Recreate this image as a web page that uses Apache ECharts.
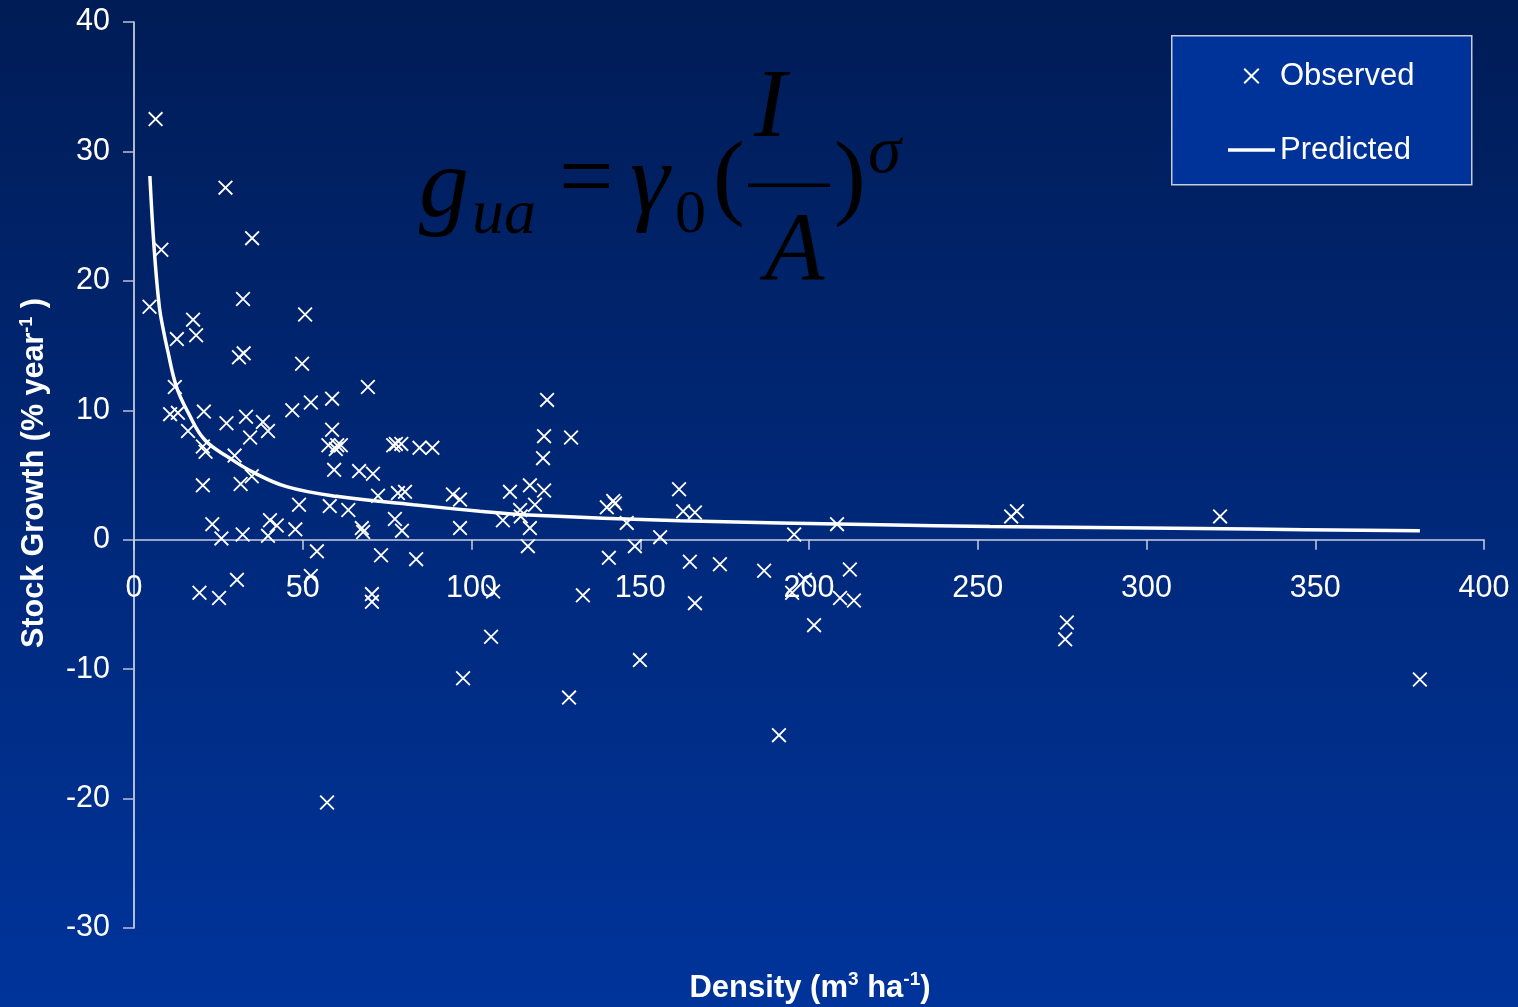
<!DOCTYPE html>
<html><head><meta charset="utf-8">
<script src="https://cdn.jsdelivr.net/npm/echarts@6/dist/echarts.min.js"></script>
<style>html,body{margin:0;padding:0;background:#002060;}#c{width:1518px;height:1007px;}</style>
</head><body><div id="c"></div>
<script>
const observedX = [6.4,8.1,4.6,27.1,35.0,32.3,50.7,17.5,18.4,12.7,31.1,32.5,49.8,12.1,69.3,10.7,13.0,20.7,16.0,27.4,33.2,38.2,39.7,34.4,20.4,21.2,29.8,20.4,31.6,34.9,46.9,52.4,58.7,58.7,57.6,60.2,61.3,59.8,59.3,66.7,70.8,76.8,77.6,79.2,84.6,88.4,72.3,78.2,80.3,48.9,58.0,63.5,23.2,25.9,32.2,40.3,42.3,39.7,47.8,67.5,67.9,77.3,79.4,54.2,73.2,83.6,52.4,19.4,25.2,30.5,70.5,70.5,57.2,94.5,96.6,96.6,109.3,111.4,114.4,114.6,117.3,118.8,117.3,116.7,121.5,121.2,121.5,122.4,129.5,140.1,142.0,142.5,146.0,148.4,140.7,155.9,161.5,162.7,166.2,164.7,173.6,166.2,186.7,195.6,208.3,195.0,198.8,212.1,209.2,213.3,201.5,191.1,106.4,105.8,97.5,133.0,149.9,128.9,259.9,261.6,321.8,276.4,275.9,381.0];
const observedY = [32.5,22.4,18.0,27.2,23.3,18.6,17.4,17.0,15.8,15.5,14.1,14.4,13.6,11.8,11.8,9.7,9.8,9.9,8.4,9.0,9.5,9.1,8.4,7.9,7.2,6.8,6.5,4.2,4.3,4.9,10.0,10.6,10.9,8.5,7.3,7.3,7.3,7.0,5.4,5.3,5.1,7.3,7.4,7.4,7.1,7.1,3.4,3.6,3.7,2.7,2.6,2.3,1.2,0.1,0.4,1.5,1.1,0.3,0.8,0.9,0.6,1.6,0.7,-0.9,-1.2,-1.5,-2.8,-4.1,-4.5,-3.1,-4.2,-4.8,-20.3,3.5,3.1,0.9,1.5,3.7,2.3,1.8,4.2,2.7,0.9,-0.5,3.8,6.3,8.0,10.8,7.9,2.5,3.0,2.8,1.3,-0.5,-1.4,0.2,3.9,2.2,2.1,-1.7,-1.9,-4.9,-2.4,0.4,1.2,-4.1,-3.1,-2.3,-4.5,-4.7,-6.6,-15.1,-4.0,-7.5,-10.7,-4.3,-9.3,-12.2,1.8,2.2,1.8,-6.4,-7.7,-10.8];
const predictedX = [4.7,6.0,7.5,8.7,9.9,12.6,16.1,21.0,28.4,35.4,45.2,60,82.8,102.5,115.3,161.8,221,253.6,330.7,381];
const predictedY = [28.1,22.4,18.0,16.2,14.7,11.8,9.8,7.7,6.3,5.2,4.1,3.35,2.7,2.2,1.93,1.47,1.16,1.03,0.82,0.7];
const seriesNames = ['Observed', 'Predicted'];
const xTickInterval = 50;
const yTickInterval = 10;

const FONT = '"Liberation Sans", Arial, sans-serif';
const SERIF = '"Liberation Serif", "Times New Roman", serif';
const xPath = 'path://M1.4,0L16,14.6L14.6,16L0,1.4Z M14.6,0L16,1.4L1.4,16L0,14.6Z';
const linePath = 'path://M0,0 M0,6.2L47,6.2L47,9.8L0,9.8Z M47,16';

const chart = echarts.init(document.getElementById('c'), null, {renderer: 'canvas'});
const option = {
  animation: false,
  backgroundColor: {type: 'linear', x: 0, y: 0, x2: 0, y2: 1, colorStops: [
    {offset: 0, color: '#001c56'}, {offset: 1, color: '#00349b'}]},
  grid: {left: 134, right: 34, top: 22, bottom: 79, containLabel: false},
  xAxis: {
    type: 'value', min: 0, max: 400, interval: xTickInterval,
    axisLine: {onZero: true, lineStyle: {color: '#c9cfe0', width: 1.5}},
    axisTick: {show: true, inside: false, length: 10, lineStyle: {color: '#c9cfe0', width: 1.5}},
    axisLabel: {color: '#ffffff', fontFamily: FONT, fontSize: 30.5, margin: -355},
    splitLine: {show: false}
  },
  yAxis: {
    type: 'value', min: -30, max: 40, interval: yTickInterval,
    axisLine: {show: true, lineStyle: {color: '#e8ecf5', width: 1.5}},
    axisTick: {show: true, inside: false, length: 11, lineStyle: {color: '#b8c0d8', width: 1.5}},
    axisLabel: {color: '#ffffff', fontFamily: FONT, fontSize: 30.5, margin: 24},
    splitLine: {show: false}
  },
  legend: {
    orient: 'vertical', left: 1228, top: 60, itemGap: 42, itemWidth: 47, itemHeight: 16,
    itemTextGap: 11, padding: 0,
    textStyle: {color: '#ffffff', fontFamily: FONT, fontSize: 31, lineHeight: 32},
    data: [
      {name: seriesNames[0], icon: xPath, itemStyle: {color: '#ffffff', borderWidth: 0}},
      {name: seriesNames[1], icon: linePath, itemStyle: {color: '#ffffff', borderWidth: 0}}
    ]
  },
  graphic: [
    {type: 'rect', left: 1171, top: 35, z: -1, shape: {width: 300, height: 149},
      style: {fill: '#003399', stroke: '#c8ccd8', lineWidth: 1.5}},
    // formula
    {type: 'text', x: 419, y: 190, style: {text: 'g', font: 'italic 100px ' + SERIF, fill: '#000', verticalAlign: 'middle'}},
    {type: 'text', x: 472, y: 216, style: {text: 'ua', font: 'italic 64px ' + SERIF, fill: '#000', verticalAlign: 'middle'}},
    {type: 'text', x: 559, y: 183, style: {text: '=', font: '97px ' + SERIF, fill: '#000', verticalAlign: 'middle'}},
    {type: 'text', x: 630, y: 186, style: {text: 'γ', font: 'italic 100px ' + SERIF, fill: '#000', verticalAlign: 'middle'}},
    {type: 'text', x: 675, y: 216, style: {text: '0', font: '62px ' + SERIF, fill: '#000', verticalAlign: 'middle'}},
    {type: 'text', x: 713, y: 182, style: {text: '(', font: '95px ' + SERIF, fill: '#000', verticalAlign: 'middle'}},
    {type: 'rect', shape: {x: 748, y: 183.5, width: 82, height: 3.5}, style: {fill: '#000'}},
    {type: 'text', x: 754, y: 110, style: {text: 'I', font: 'italic 97px ' + SERIF, fill: '#000', verticalAlign: 'middle'}},
    {type: 'text', x: 765, y: 253, style: {text: 'A', font: 'italic 97px ' + SERIF, fill: '#000', verticalAlign: 'middle'}},
    {type: 'text', x: 834, y: 182, style: {text: ')', font: '95px ' + SERIF, fill: '#000', verticalAlign: 'middle'}},
    {type: 'text', x: 868, y: 154, style: {text: 'σ', font: 'italic 67px ' + SERIF, fill: '#000', verticalAlign: 'middle'}},
    // axis titles
    {type: 'text', x: 810, y: 988, style: {
      text: '{a|Density (m}{s|3}{a| ha}{s|-1}{a|)}', align: 'center', verticalAlign: 'middle',
      rich: {
        a: {fontFamily: FONT, fontWeight: 'bold', fontSize: 31, lineHeight: 35, fill: '#fff', color: '#fff'},
        s: {fontFamily: FONT, fontWeight: 'bold', fontSize: 19, lineHeight: 19, verticalAlign: 'top', fill: '#fff', color: '#fff'}
      }}},
    {type: 'text', x: 35, y: 473, rotation: Math.PI / 2, style: {
      text: '{a|Stock Growth (% year}{s|-1}{a| )}', align: 'center', verticalAlign: 'middle',
      rich: {
        a: {fontFamily: FONT, fontWeight: 'bold', fontSize: 30.5, lineHeight: 34, fill: '#fff', color: '#fff'},
        s: {fontFamily: FONT, fontWeight: 'bold', fontSize: 18, lineHeight: 18, verticalAlign: 'top', fill: '#fff', color: '#fff'}
      }}}
  ],
  series: [
    {
      name: seriesNames[0], type: 'scatter', symbol: xPath, symbolSize: 15, symbolKeepAspect: true,
      itemStyle: {color: '#ffffff', opacity: 1},
      data: observedX.map((x, i) => [x, observedY[i]]), z: 3
    },
    {
      name: seriesNames[1], type: 'line', smooth: 0.4, symbol: 'none',
      lineStyle: {color: '#ffffff', width: 3.5}, itemStyle: {color: '#ffffff'},
      data: predictedX.map((x, i) => [x, predictedY[i]]), z: 4
    }
  ]
};
chart.setOption(option);
</script>
</body></html>
